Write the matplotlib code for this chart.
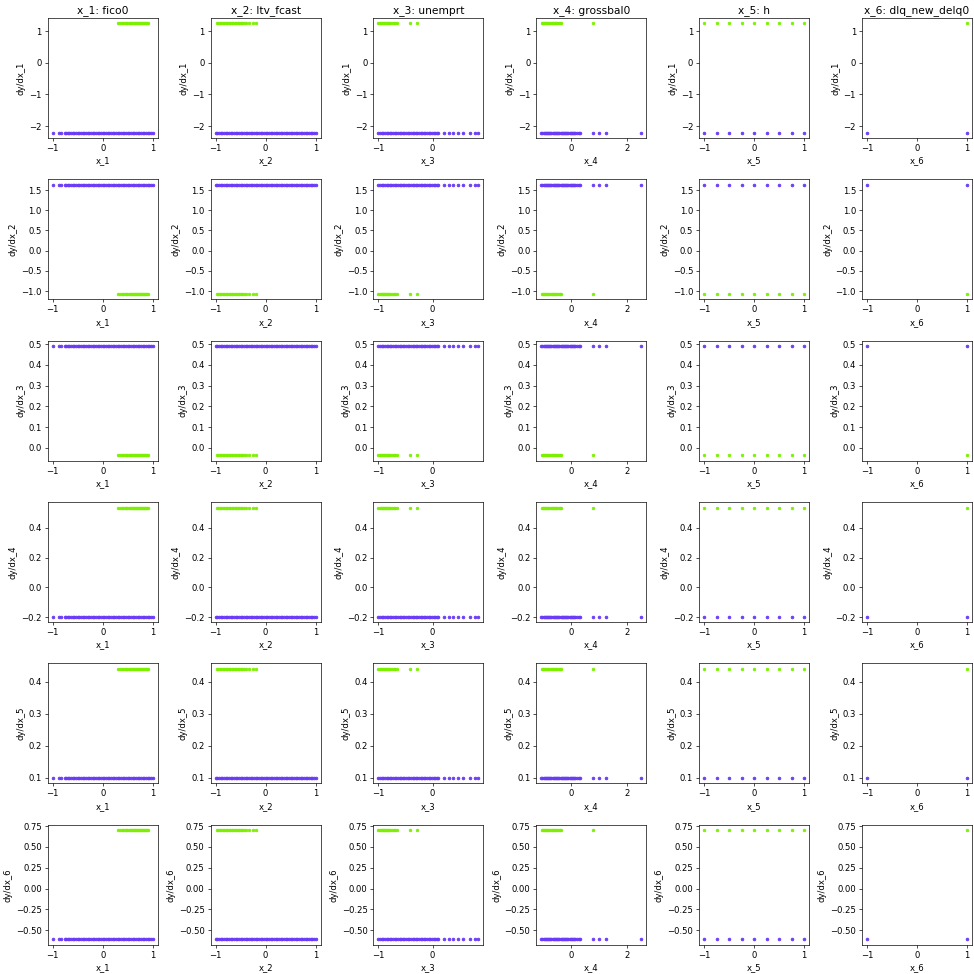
import matplotlib
matplotlib.use("Agg")
import matplotlib.pyplot as plt
import numpy as np

feature_titles = ['x_1: fico0', 'x_2: ltv_fcast', 'x_3: unemprt',
                  'x_4: grossbal0', 'x_5: h', 'x_6: dlq_new_delq0']
x_labels = ['x_1', 'x_2', 'x_3', 'x_4', 'x_5', 'x_6']
y_labels = ['dy/dx_1', 'dy/dx_2', 'dy/dx_3', 'dy/dx_4', 'dy/dx_5', 'dy/dx_6']

# x tick values shown under each column
x_ticks = [[-1, 0, 1], [-1, 0, 1], [-1, 0], [0, 2], [-1, 0, 1], [-1, 0, 1]]

# derivative values of the two regions (purple / green)
dydx_purple = [-2.2, 1.63, 0.49, -0.195, 0.10, -0.61]
dydx_green = [1.24, -1.07, -0.035, 0.535, 0.44, 0.70]

# x values of samples in each region, per feature
x1_purple = [-1.0, -0.87, -0.83, -0.76, -0.73, -0.70, -0.67, -0.63, -0.60, -0.57, -0.53,
             -0.50, -0.47, -0.43, -0.40, -0.37, -0.33, -0.30, -0.27, -0.23, -0.20, -0.17,
             -0.13, -0.10, -0.07, -0.03, 0.0, 0.03, 0.07, 0.10, 0.13, 0.17, 0.20, 0.23,
             0.27, 0.30, 0.33, 0.37, 0.40, 0.43, 0.47, 0.50, 0.53, 0.57, 0.60, 0.63, 0.67,
             0.70, 0.73, 0.77, 0.80, 0.83, 0.87, 0.90, 0.93, 0.97, 1.0]
x1_green = [0.31, 0.35, 0.38, 0.41, 0.44, 0.47, 0.49, 0.52, 0.55, 0.57, 0.59, 0.61, 0.63,
            0.65, 0.67, 0.69, 0.71, 0.73, 0.75, 0.77, 0.79, 0.81, 0.83, 0.85, 0.87, 0.89, 0.91]

x2_purple = [-1.0, -0.97, -0.93, -0.90, -0.87, -0.83, -0.80, -0.77, -0.73, -0.70, -0.67,
             -0.63, -0.60, -0.57, -0.53, -0.50, -0.47, -0.43, -0.40, -0.37, -0.33, -0.30,
             -0.27, -0.23, -0.20, -0.17, -0.13, -0.10, -0.07, -0.03, 0.0, 0.03, 0.07, 0.10,
             0.13, 0.17, 0.20, 0.23, 0.27, 0.30, 0.33, 0.37, 0.40, 0.43, 0.47, 0.50, 0.53,
             0.57, 0.60, 0.63, 0.67, 0.70, 0.73, 0.77, 0.80, 0.83, 0.87, 0.90, 0.93, 0.97, 1.0]
x2_green = [-0.98, -0.95, -0.92, -0.89, -0.86, -0.83, -0.80, -0.77, -0.74, -0.71, -0.68,
            -0.65, -0.62, -0.59, -0.56, -0.53, -0.50, -0.47, -0.44, -0.40, -0.33, -0.26, -0.20]

x3_purple = [-1.0, -0.97, -0.94, -0.91, -0.88, -0.85, -0.82, -0.79, -0.76, -0.73, -0.70,
             -0.67, -0.64, -0.61, -0.58, -0.55, -0.52, -0.49, -0.46, -0.43, -0.40, -0.37,
             -0.34, -0.31, -0.28, -0.25, -0.22, -0.19, -0.16, -0.13, -0.10, -0.07, -0.04,
             -0.01, 0.02, 0.05, 0.08, 0.11, 0.21, 0.30, 0.38, 0.47, 0.57, 0.70, 0.79, 0.85]
x3_green = [-1.0, -0.98, -0.96, -0.94, -0.92, -0.90, -0.88, -0.86, -0.84, -0.82, -0.80,
            -0.78, -0.75, -0.72, -0.69, -0.66, -0.41, -0.28]

x4_purple = [-1.04, -1.00, -0.96, -0.92, -0.88, -0.84, -0.80, -0.76, -0.72, -0.68, -0.64,
             -0.60, -0.56, -0.52, -0.48, -0.44, -0.40, -0.36, -0.32, -0.28, -0.24, -0.20,
             -0.16, -0.12, -0.08, -0.04, 0.0, 0.04, 0.08, 0.12, 0.17, 0.22, 0.28, 0.33,
             0.78, 0.99, 1.24, 2.5]
x4_green = [-1.03, -0.99, -0.95, -0.91, -0.87, -0.83, -0.79, -0.75, -0.71, -0.67, -0.63,
            -0.59, -0.55, -0.51, -0.47, -0.43, -0.39, -0.36, 0.80]

x5_purple = [-1.0, -0.75, -0.5, -0.25, 0.0, 0.25, 0.5, 0.75, 1.0]
x5_green = [-1.0, -0.75, -0.5, -0.25, 0.0, 0.25, 0.5, 0.75, 1.0]

x6_purple = [-1.0, 1.0]
x6_green = [1.0]

purple_x = [x1_purple, x2_purple, x3_purple, x4_purple, x5_purple, x6_purple]
green_x = [x1_green, x2_green, x3_green, x4_green, x5_green, x6_green]

purple_color = '#6a3cf6'
green_color = '#7cf000'

DPI = 974 / 16.0
fig, axes = plt.subplots(6, 6, figsize=(16, 16), dpi=DPI)
fig.subplots_adjust(left=0.049, right=0.998, top=0.9815, bottom=0.030,
                    wspace=0.48, hspace=0.345)
for i in range(6):
    for j in range(6):
        ax = axes[i, j]
        xp = purple_x[j]
        xg = green_x[j]
        ax.scatter(xp, [dydx_purple[i]] * len(xp), s=10, color=purple_color)
        ax.scatter(xg, [dydx_green[i]] * len(xg), s=9, color=green_color)
        ax.set_xticks(x_ticks[j])
        ax.set_xlabel(x_labels[j])
        ax.set_ylabel(y_labels[i])
        if i == 0:
            ax.set_title(feature_titles[j], fontsize=12.5)

fig.savefig('out.png', dpi=DPI)
